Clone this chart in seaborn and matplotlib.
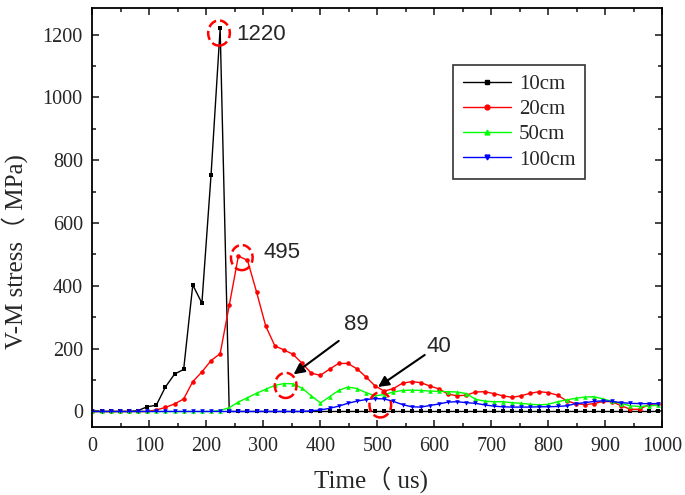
import numpy as np
import pandas as pd
import matplotlib
matplotlib.use('Agg')
import matplotlib.pyplot as plt
from matplotlib.patches import Ellipse
from matplotlib.ticker import MultipleLocator
import seaborn as sns

# sample times (us)
time_us = [0, 16, 32, 48, 64, 80, 96, 112, 128, 144, 160, 176, 192, 208, 224, 240,
           256, 272, 288, 304, 320, 336, 352, 368, 384, 400, 416, 432, 448, 464, 480, 496,
           512, 528, 544, 560, 576, 592, 608, 624, 640, 656, 672, 688, 704, 720, 736, 752,
           768, 784, 800, 816, 832, 848, 864, 880, 896, 912, 928, 944, 960, 976, 992]

# V-M stress (MPa)
stress_10cm = [0, 0, 0, 0, 0, 3, 15, 20, 78, 119, 134, 403, 345, 752, 1220, 0,
               0, 0, 0, 0, 0, 0, 0, 0, 0, 0, 0, 0, 0, 0, 0, 0,
               0, 0, 0, 0, 0, 0, 0, 0, 0, 0, 0, 0, 0, 0, 0, 0,
               0, 0, 0, 0, 0, 0, 0, 0, 0, 0, 0, 0, 0, 0, 0]
stress_20cm = [0, 0, 0, 0, 0, 0, 0, 5, 13, 24, 40, 95, 126, 162, 184, 338,
               495, 481, 380, 272, 209, 196, 182, 153, 122, 115, 135, 153, 153, 136, 110, 81,
               65, 73, 90, 95, 92, 81, 72, 55, 50, 52, 62, 63, 57, 50, 45, 50,
               58, 63, 60, 52, 34, 25, 22, 25, 32, 31, 18, 7, 7, 22, 25]
stress_50cm = [0, 0, 0, 0, 0, 0, 0, 0, 0, 0, 0, 0, 0, 0, 3, 12,
               30, 44, 58, 71, 83, 89, 88, 74, 50, 27, 47, 67, 78, 73, 60, 50,
               54, 62, 67, 68, 67, 65, 64, 63, 62, 57, 39, 33, 31, 31, 28, 26,
               23, 21, 23, 31, 37, 42, 46, 47, 40, 32, 25, 18, 16, 18, 20]
stress_100cm = [0, 0, 0, 0, 0, 0, 0, 0, 0, 0, 0, 0, 0, 0, 0, 0,
                0, 0, 0, 0, 0, 0, 0, 0, 2, 5, 10, 17, 26, 33, 38, 41,
                40, 32, 22, 15, 14, 19, 24, 30, 31, 28, 26, 21, 17, 15, 14, 14,
                14, 15, 15, 16, 18, 25, 28, 32, 34, 32, 28, 26, 25, 25, 25]

labels = ['10cm', '20cm', '50cm', '100cm']
colors = ['black', 'red', '#00ff00', 'blue']
markers = ['s', 'o', '^', 'v']

# peak annotations
peak_text = ['1220', '495', '89', '40']
circle_t = [222, 262, 339, 505]
circle_v = [1205, 490, 83, 21]
text_t = [253, 300, 441, 586]
text_v = [1200, 506, 277, 207]

sns.set_style('ticks')
plt.rcParams['font.family'] = ['Liberation Serif', 'Noto Sans CJK SC']

df = pd.DataFrame({
    'Time': time_us * 4,
    'Stress': stress_10cm + stress_20cm + stress_50cm + stress_100cm,
    'Depth': sum([[lab] * len(time_us) for lab in labels], []),
})

fig = plt.figure(figsize=(6.85, 4.95), dpi=100)
ax = fig.add_axes([0.135, 0.137, 0.832, 0.847])

sns.lineplot(data=df, x='Time', y='Stress', hue='Depth', style='Depth',
             hue_order=labels, style_order=labels, palette=colors,
             markers=markers, dashes=False, markersize=3.3, markeredgewidth=0,
             linewidth=1.0, ax=ax, legend=False)

ax.set_xlim(0, 1000)
ax.set_ylim(-50, 1285)
ax.xaxis.set_major_locator(MultipleLocator(100))
ax.xaxis.set_minor_locator(MultipleLocator(50))
ax.yaxis.set_major_locator(MultipleLocator(200))
ax.yaxis.set_minor_locator(MultipleLocator(100))
ax.tick_params(which='both', direction='in', top=True, right=True, labelsize=14.5, width=1.2)
ax.tick_params(which='major', length=5, pad=7)
ax.tick_params(which='minor', length=3)
for s in ax.spines.values():
    s.set_linewidth(1.3)
    s.set_color('black')

ax.set_xlabel('Time（ us)', fontsize=18)
ax.set_ylabel('V-M stress（ MPa)', fontsize=18)
ax.xaxis.set_label_coords(0.489, -0.093)
ax.yaxis.set_label_coords(-0.113, 0.42)

# legend
handles = [plt.Line2D([], [], color=c, marker=m, markersize=3.5, lw=1.0)
           for c, m in zip(colors, markers)]
leg = ax.legend(handles, labels, loc='upper left', bbox_to_anchor=(0.633, 0.864),
                fontsize=15, frameon=True, fancybox=False, edgecolor='black',
                handlelength=2.3, borderpad=0.45, labelspacing=0.27, handletextpad=0.4,
                borderaxespad=0)
leg.get_frame().set_linewidth(1.2)

# dashed circles and peak labels
for ct, cv in zip(circle_t, circle_v):
    ax.add_patch(Ellipse((ct, cv), width=38, height=80, fill=False,
                         edgecolor='red', linestyle='--', linewidth=1.8, zorder=5))
for txt, tt, tv in zip(peak_text, text_t, text_v):
    ax.text(tt, tv, txt, fontsize=16, family=['Liberation Sans'], va='center', ha='left')

ax.annotate('', xy=(349, 113), xytext=(436, 230),
            arrowprops=dict(arrowstyle='-|>', color='black', lw=1.5, mutation_scale=16))
ax.annotate('', xy=(497, 73), xytext=(587, 185),
            arrowprops=dict(arrowstyle='-|>', color='black', lw=1.5, mutation_scale=16))

fig.savefig('out.png', dpi=100)
